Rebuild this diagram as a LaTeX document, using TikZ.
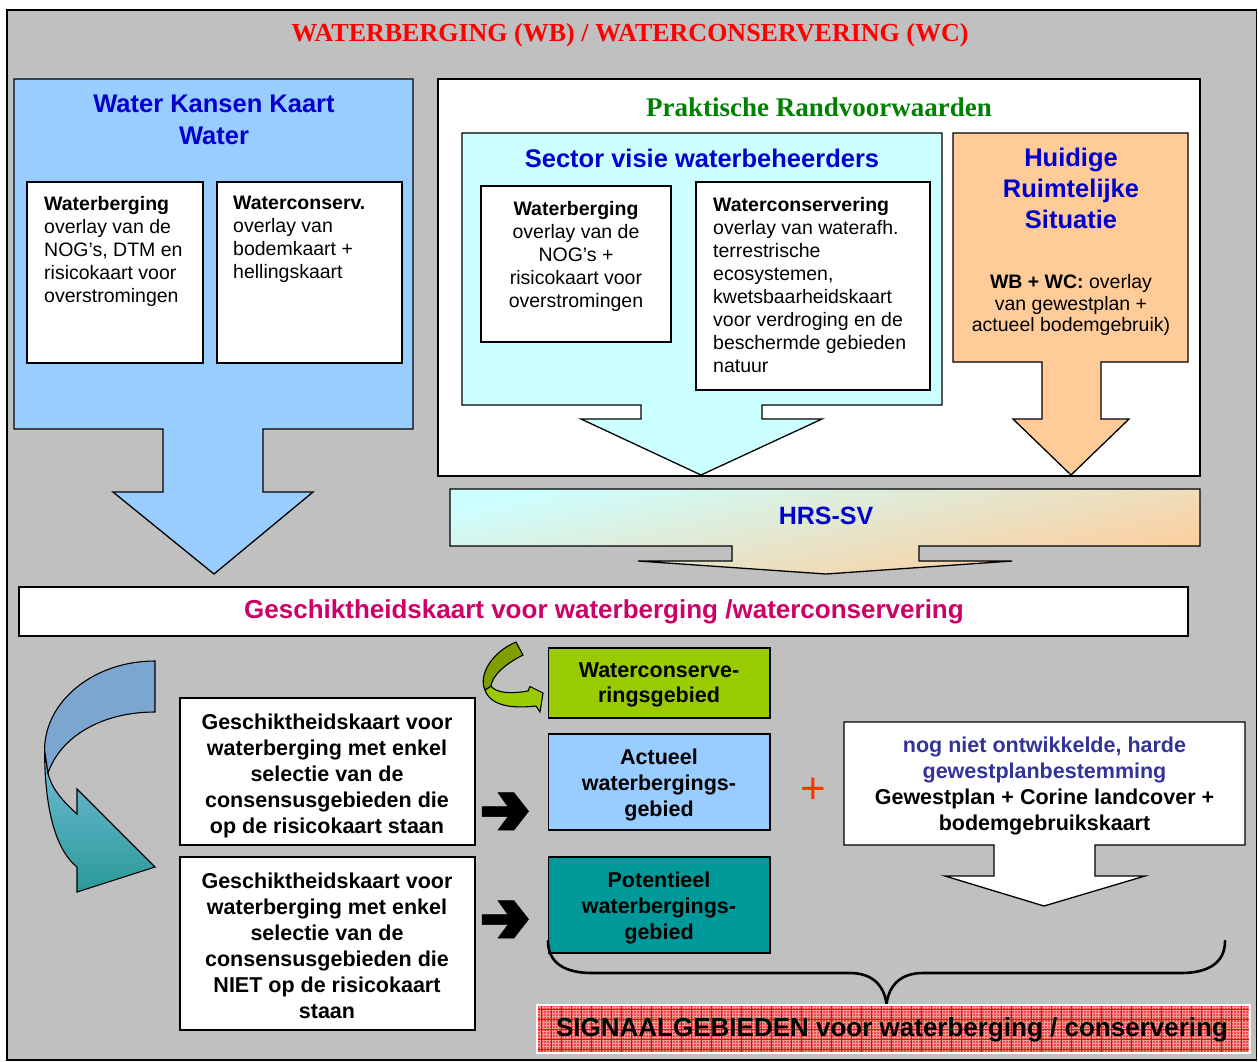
\documentclass[tikz,border=0pt]{standalone}
\usepackage{fontspec}
\setmainfont{Liberation Sans}
\newfontfamily\serifface{Liberation Serif}
\usetikzlibrary{patterns}

\definecolor{panelgray}{HTML}{C0C0C0}
\definecolor{skyblue}{HTML}{99CCFF}
\definecolor{palecyan}{HTML}{CCFFFF}
\definecolor{peach}{HTML}{FFCC99}
\definecolor{limegreen}{HTML}{99CC00}
\definecolor{olivegreen}{HTML}{7F9F00}
\definecolor{tealbox}{HTML}{009999}
\definecolor{titlered}{HTML}{FF0000}
\definecolor{headblue}{HTML}{0000CC}
\definecolor{darkgreen}{HTML}{008000}
\definecolor{magentatxt}{HTML}{CC0066}
\definecolor{slateblue}{HTML}{333399}
\definecolor{plusred}{HTML}{FF3300}
\definecolor{signalred}{HTML}{EE4A4A}
\definecolor{gridpink}{HTML}{F59A9A}
\definecolor{ribbontop}{HTML}{7BA6CF}
\definecolor{ribbonlight}{HTML}{74BCD8}
\definecolor{ribbondark}{HTML}{2A9A98}

\begin{document}
\begin{tikzpicture}[x=1pt, y=-1pt, line join=miter,
  outline/.style={draw=black, line width=1.3},
  headtxt/.style={font=\bfseries\fontsize{25.5}{32}\selectfont, text=headblue, inner sep=0, align=center, anchor=north},
  bodyleft/.style={font=\fontsize{19.5}{23}\selectfont, inner sep=0, align=left, anchor=north west},
  bodycenter/.style={font=\fontsize{19.5}{23}\selectfont, inner sep=0, align=center, anchor=north},
  boldtxt/.style={font=\bfseries\fontsize{21.5}{26}\selectfont, inner sep=0, align=center, anchor=north},
  bigbold/.style={font=\bfseries\fontsize{26}{30}\selectfont, inner sep=0},
  blockarrow/.style={fill=black, draw=black, line width=0.5}]

\useasboundingbox (0,0) rectangle (1258,1061);

% background panel
\draw[fill=panelgray, line width=1.6] (7,10) rectangle (1256.5,1060);

\node[font=\serifface\bfseries\fontsize{26}{30}\selectfont, text=titlered, inner sep=0]
  (title) at (630,35) {WATERBERGING (WB) / WATERCONSERVERING (WC)};

% Water Kansen Kaart block arrow
\draw[outline, fill=skyblue] (14,79) -- (413,79) -- (413,429) -- (263,429) -- (263,492)
  -- (313,492) -- (214,574) -- (113,492) -- (163,492) -- (163,429) -- (14,429) -- cycle;
\node[headtxt] (wkk) at (214,95) {Water Kansen Kaart\\Water};
\draw[outline, fill=white] (27,182) rectangle (203,363);
\draw[outline, fill=white] (217,182) rectangle (402,363);
\node[bodyleft] (wkkwb) at (44,196) {\textbf{Waterberging}\\overlay van de\\NOG’s, DTM en\\risicokaart voor\\overstromingen};
\node[bodyleft] (wkkwc) at (233,196) {\textbf{Waterconserv.}\\overlay van\\bodemkaart +\\hellingskaart};

% Praktische randvoorwaarden panel
\draw[outline, fill=white] (438,79) rectangle (1200,476);
\node[anchor=base, inner sep=0, font=\serifface\bfseries\fontsize{27}{30}\selectfont, text=darkgreen]
  (prak) at (819,116.5) {Praktische Randvoorwaarden};

% sector vision block arrow
\draw[outline, fill=palecyan] (462,133) -- (942,133) -- (942,405) -- (762,405) -- (762,419)
  -- (822,419) -- (701,475) -- (581,419) -- (641,419) -- (641,405) -- (462,405) -- cycle;
\node[headtxt] (sector) at (702,149) {Sector visie waterbeheerders};
\draw[outline, fill=white] (481,186) rectangle (671,342);
\draw[outline, fill=white] (696,182) rectangle (930,390);
\node[bodycenter] (secwb) at (576,201) {\textbf{Waterberging}\\overlay van de\\NOG’s +\\risicokaart voor\\overstromingen};
\node[bodyleft] (secwc) at (713,197) {\textbf{Waterconservering}\\overlay van waterafh.\\terrestrische\\ecosystemen,\\kwetsbaarheidskaart\\voor verdroging en de\\beschermde gebieden\\natuur};

% current spatial situation block arrow
\draw[outline, fill=peach] (953,133) -- (1188,133) -- (1188,362) -- (1101,362) -- (1101,419)
  -- (1129,419) -- (1071,475) -- (1013,419) -- (1042,419) -- (1042,362) -- (953,362) -- cycle;
\node[headtxt, font=\bfseries\fontsize{25.5}{31}\selectfont] (hrs) at (1071,148) {Huidige\\Ruimtelijke\\Situatie};
\node[bodycenter, font=\fontsize{19.5}{21.7}\selectfont] (hrsov) at (1071,274) {\textbf{WB + WC:} overlay\\van gewestplan +\\actueel bodemgebruik)};

% HRS-SV block arrow
\path[outline, top color=palecyan, bottom color=peach, shading angle=12]
  (450,489) -- (1200,489) -- (1200,546) -- (919,546) -- (919,561) -- (1012,561)
  -- (826,574) -- (638,561) -- (732,561) -- (732,546) -- (450,546) -- cycle;
\node[bigbold, font=\bfseries\fontsize{25}{30}\selectfont, text=headblue] (hrssv) at (826,516) {HRS-SV};

% suitability map bar
\draw[outline, fill=white] (19,587) rectangle (1188,636);
\node[bigbold, text=magentatxt] (suit) at (604,612) {Geschiktheidskaart voor waterberging /waterconservering};

% twisted blue arrow on the left
\shade[top color=ribbonlight, bottom color=ribbondark, draw=black, line width=1.1]
  (44.6,750) .. controls (44.6,815) and (58,852) .. (77,867) -- (77,892) -- (155,867)
  -- (77,789) -- (77,814) .. controls (64,802) and (52,790) .. (48,773) -- cycle;
\draw[fill=ribbontop, line width=1.1]
  (155,661) .. controls (94,661) and (44.6,701) .. (44.6,750) -- (48,773)
  .. controls (60,738) and (100,712) .. (155,712) -- cycle;

% twisted green arrow
\draw[fill=limegreen, line width=1.1]
  (485,690) .. controls (490,705) and (510,709) .. (536,706) -- (540,712) -- (543,693)
  -- (530,686.5) -- (528,691) .. controls (510,694) and (496,693) .. (491,686) -- cycle;
\draw[fill=olivegreen, line width=1.1]
  (516,642) -- (523,655) .. controls (505,664) and (492,676) .. (491,686) -- (485,690)
  .. controls (478,675) and (492,652) .. (516,642) -- cycle;

% left selection boxes
\draw[outline, fill=white] (180,698) rectangle (475,845);
\draw[outline, fill=white] (180,857) rectangle (475,1030);
\node[boldtxt] (selA) at (327,714) {Geschiktheidskaart voor\\waterberging met enkel\\selectie van de\\consensusgebieden die\\op de risicokaart staan};
\node[boldtxt] (selB) at (327,873) {Geschiktheidskaart voor\\waterberging met enkel\\selectie van de\\consensusgebieden die\\NIET op de risicokaart\\staan};

% bold pointing arrows
\draw[blockarrow] (482,806.7) -- (508,806.7) -- (498,792.7) -- (514,792.7) -- (528.6,811.3)
  -- (514,830) -- (498,830) -- (508,816.7) -- (482,816.7) -- cycle;
\draw[blockarrow] (482,914.7) -- (508,914.7) -- (498,900.7) -- (514,900.7) -- (528.6,919.3)
  -- (514,938) -- (498,938) -- (508,924.7) -- (482,924.7) -- cycle;

% result area boxes
\draw[outline, fill=limegreen] (548.6,648) rectangle (770,718);
\draw[outline, fill=skyblue] (548.6,734) rectangle (770,830);
\draw[outline, fill=tealbox] (548.6,857) rectangle (770,953);
\node[boldtxt, font=\bfseries\fontsize{21.5}{25}\selectfont] (wcarea) at (659,662) {Waterconserve-\\ringsgebied};
\node[boldtxt] (actual) at (659,749) {Actueel\\waterbergings-\\gebied};
\node[boldtxt] (potential) at (659,872) {Potentieel\\waterbergings-\\gebied};

\node[inner sep=0, text=plusred, font=\fontsize{44}{44}\selectfont] (plus) at (813,791) {+};

% land use block arrow
\draw[outline, fill=white] (844,722) -- (1245,722) -- (1245,845) -- (1095,845) -- (1095,876)
  -- (1145,876) -- (1044,906) -- (945,876) -- (994,876) -- (994,845) -- (844,845) -- cycle;
\node[boldtxt] (landuse) at (1044.5,737) {\textcolor{slateblue}{nog niet ontwikkelde, harde}\\\textcolor{slateblue}{gewestplanbestemming}\\Gewestplan + Corine landcover +\\bodemgebruikskaart};

% brace gathering the areas
\draw[line width=2.6, line cap=round]
  (548,941) .. controls (548,963) and (565,973) .. (592,973) -- (850,973)
  .. controls (872,973) and (884,985) .. (886.5,1004)
  .. controls (889,985) and (901,973) .. (923,973) -- (1181,973)
  .. controls (1208,973) and (1225,963) .. (1225,941);

% signal areas banner
\fill[signalred] (537,1005) rectangle (1250,1053);
\fill[pattern=grid, pattern color=gridpink] (537,1005) rectangle (1250,1053);
\foreach \gx in {541,551,...,1250} \draw[red, line width=0.6] (\gx,1005) -- (\gx,1053);
\foreach \gy in {1009,1019,...,1053} \draw[red, line width=0.6] (537,\gy) -- (1250,\gy);
\draw[white, line width=2] (537,1005) rectangle (1250,1053);
\node[bigbold] (signal) at (892,1030) {SIGNAALGEBIEDEN voor waterberging / conservering};

\end{tikzpicture}
\end{document}
